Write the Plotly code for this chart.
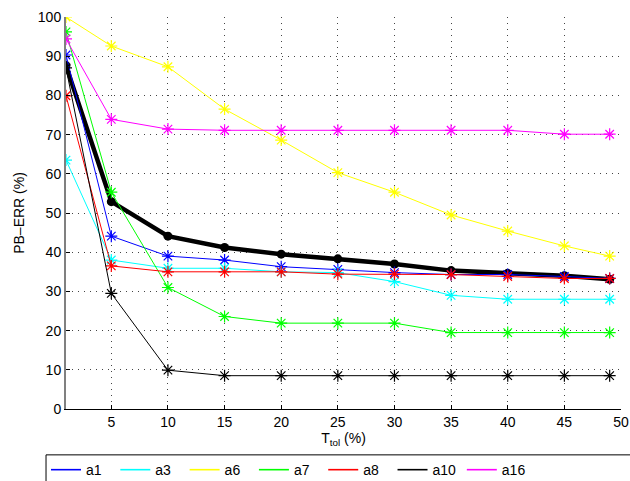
import plotly.graph_objects as go

x_vals = [1, 5, 10, 15, 20, 25, 30, 35, 40, 45, 49]

a1 = [90.3, 44.1, 39.0, 38.0, 36.3, 35.6, 34.8, 34.3, 34.3, 33.8, 33.3]
a3 = [63.5, 38.0, 35.9, 35.9, 35.0, 34.8, 32.5, 29.0, 28.0, 28.0, 28.0]
a6 = [100.0, 92.6, 87.3, 76.5, 68.6, 60.3, 55.3, 49.5, 45.4, 41.6, 39.0]
a7 = [96.2, 55.3, 31.0, 23.6, 21.9, 21.9, 21.9, 19.5, 19.5, 19.5, 19.5]
a8 = [79.9, 36.5, 35.0, 35.0, 35.0, 34.4, 34.4, 34.3, 33.8, 33.3, 33.3]
a10 = [87.0, 29.5, 9.9, 8.5, 8.5, 8.5, 8.5, 8.5, 8.5, 8.5, 8.5]
a16 = [94.4, 73.9, 71.4, 71.1, 71.1, 71.1, 71.1, 71.1, 71.1, 70.1, 70.1]
mean_vals = [87.6, 52.9, 44.1, 41.2, 39.5, 38.3, 37.0, 35.3, 34.6, 34.0, 33.1]

series = [
    ("a1", a1, "#0000FF"),
    ("a3", a3, "#00FFFF"),
    ("a6", a6, "#FFFF00"),
    ("a7", a7, "#00FF00"),
    ("a8", a8, "#FF0000"),
    ("a10", a10, "#000000"),
    ("a16", a16, "#FF00FF"),
]

x_ticks = [5, 10, 15, 20, 25, 30, 35, 40, 45, 50]
y_ticks = [0, 10, 20, 30, 40, 50, 60, 70, 80, 90, 100]

fig = go.Figure()

fig.add_trace(go.Scatter(
    x=x_vals, y=mean_vals, mode="lines+markers", showlegend=False,
    line=dict(color="black", width=4.5),
    marker=dict(symbol="circle", size=9, color="black"),
))

for name, vals, color in series:
    fig.add_trace(go.Scatter(
        x=x_vals, y=vals, mode="lines+markers", name=name, showlegend=False,
        legendgroup=name,
        line=dict(color=color, width=1),
        marker=dict(symbol="asterisk-open", size=10, color=color,
                    line=dict(color=color, width=1.2)),
    ))

# legend entries drawn as plain line samples (as in the reference)
for name, vals, color in series:
    fig.add_trace(go.Scatter(
        x=[None], y=[None], mode="lines", name=name, legendgroup=name,
        line=dict(color=color, width=1.6),
    ))

font_family = "Liberation Sans, Arial, sans-serif"

# legend frame running past the right and bottom edges, as in the reference
fig.add_shape(
    type="rect", xref="paper", yref="paper",
    x0=-0.036, x1=1.03, y0=-0.117, y1=-0.215,
    line=dict(color="black", width=1), fillcolor="rgba(0,0,0,0)",
    layer="below",
)

fig.update_layout(
    width=630, height=481,
    paper_bgcolor="white", plot_bgcolor="white",
    margin=dict(l=66, r=9, t=17, b=72, autoexpand=False),
    font=dict(family=font_family, size=14, color="black"),
    xaxis=dict(
        range=[1, 50], tickvals=x_ticks, ticks="inside", ticklen=4,
        tickcolor="black", showline=True, linecolor="black", linewidth=1,
        showgrid=True, gridcolor="#444444", griddash="1px,5px", gridwidth=1,
        zeroline=False, tickfont=dict(size=14),
        title=dict(text="T<sub>tol</sub> (%)", font=dict(size=14), standoff=3),
    ),
    yaxis=dict(
        range=[0, 100], tickvals=y_ticks, ticks="inside", ticklen=4,
        tickcolor="black", showline=True, linecolor="#808080", linewidth=2,
        showgrid=True, gridcolor="#444444", griddash="1px,5px", gridwidth=1,
        zeroline=False, tickfont=dict(size=14),
        title=dict(text="PB\u2013ERR (%)", font=dict(size=14), standoff=10),
    ),
    legend=dict(
        orientation="h", x=-0.036, xanchor="left", y=-0.115, yanchor="top",
        borderwidth=0, bgcolor="rgba(0,0,0,0)",
        font=dict(size=14), entrywidth=24.3, entrywidthmode="pixels",
        tracegroupgap=0,
    ),
)

fig.write_html(
    "out.html",
    config={"displayModeBar": False},
    post_script="document.body.style.margin='0';document.body.style.overflow='hidden';",
)
